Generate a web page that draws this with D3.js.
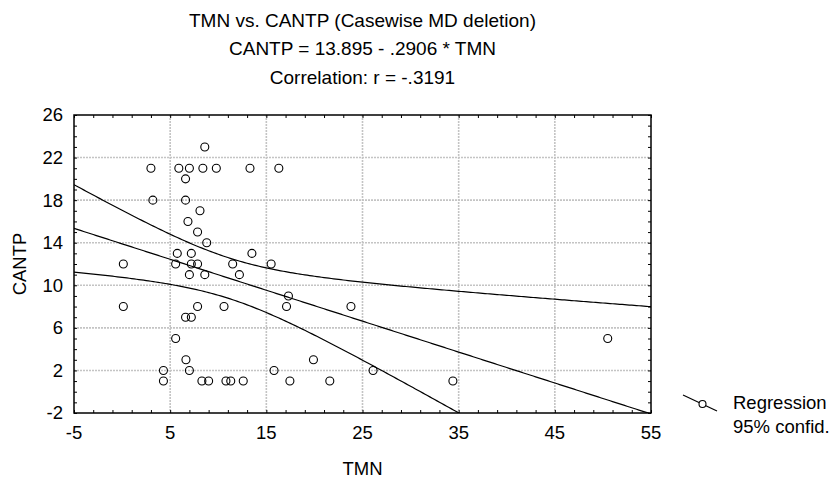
<!DOCTYPE html>
<html>
<head>
<meta charset="utf-8">
<script src="https://cdn.jsdelivr.net/npm/d3@7"></script>
<style>
  body { margin: 0; background: #fff; }
  svg text { font-family: "Liberation Sans", Arial, sans-serif; fill: #000; }
</style>
</head>
<body>
<div id="chart"></div>
<script>
// data
const tmn = [3.0, 5.9, 7.0, 6.6, 8.4, 9.8, 13.3, 16.3, 8.6, 3.2, 6.6, 8.1, 6.85, 7.85, 8.8,
    5.74, 7.2, 13.5, 0.13, 5.57, 7.2, 7.85, 11.5, 15.5, 7.0, 8.6, 12.2, 17.3, 0.13, 7.85,
    10.6, 17.1, 23.8, 6.6, 7.2, 5.57, 6.64, 19.9, 7.0, 4.3, 15.8, 26.1, 4.3, 8.3, 9.0,
    10.8, 11.3, 12.6, 17.45, 21.6, 34.4, 50.5];
const cantp = [21, 21, 21, 20, 21, 21, 21, 21, 23, 18, 18, 17, 16, 15, 14,
    13, 13, 13, 12, 12, 12, 12, 12, 12, 11, 11, 11, 9, 8, 8,
    8, 8, 8, 7, 7, 5, 3, 3, 2, 2, 2, 2, 1, 1, 1,
    1, 1, 1, 1, 1, 1, 5];
// regression coefficients as printed in the title
const intercept = 13.895, slope = -0.2906;
const xTicks = [-5, 5, 15, 25, 35, 45, 55];
const yTicks = [-2, 2, 6, 10, 14, 18, 22, 26];
const titles = ["TMN vs. CANTP (Casewise MD deletion)",
    "CANTP = 13.895 - .2906 * TMN",
    "Correlation: r = -.3191"];
const legendLabels = ["Regression", "95% confid."];

const W = 832, H = 478;
const margin = {top: 115, right: 181, bottom: 65, left: 74};
const width = W - margin.left - margin.right,
    height = H - margin.top - margin.bottom;
const fs = "18.5px";

const svg = d3.select("#chart").append("svg")
    .attr("width", W).attr("height", H);

const x = d3.scaleLinear().domain([-5, 55]).range([0, width]);
const y = d3.scaleLinear().domain([-2, 26]).range([height, 0]);

const g = svg.append("g")
    .attr("transform", "translate(" + margin.left + "," + margin.top + ")");

g.append("clipPath").attr("id", "clip")
  .append("rect").attr("width", width).attr("height", height);

// grid
g.selectAll(".vgrid").data(xTicks.slice(1, -1)).enter().append("line")
    .attr("x1", d => x(d)).attr("x2", d => x(d))
    .attr("y1", 0).attr("y2", height)
    .attr("stroke", "#c4c4c4").attr("stroke-width", 1.6)
    .attr("stroke-dasharray", "2,1");
g.selectAll(".hgrid").data(yTicks.slice(1, -1)).enter().append("line")
    .attr("y1", d => y(d)).attr("y2", d => y(d))
    .attr("x1", 0).attr("x2", width)
    .attr("stroke", "#c4c4c4").attr("stroke-width", 1.6)
    .attr("stroke-dasharray", "2,1");

// regression + 95% confidence band for the mean
const n = tmn.length;
const mx = d3.mean(tmn);
const sxx = d3.sum(tmn, v => (v - mx) ** 2);
const fit = xv => intercept + slope * xv;
const sse = d3.sum(tmn, (v, i) => (cantp[i] - fit(v)) ** 2);
const s = Math.sqrt(sse / (n - 2));
const tcrit = 2.0086; // t(0.975, 50)
const half = xv => tcrit * s * Math.sqrt(1 / n + (xv - mx) ** 2 / sxx);

const xs = d3.range(-5, 55.01, 0.25);
const line = d3.line().x(d => x(d[0])).y(d => y(d[1]));
const curves = [
    xs.map(v => [v, fit(v)]),
    xs.map(v => [v, fit(v) + half(v)]),
    xs.map(v => [v, fit(v) - half(v)])
];
g.append("g").attr("clip-path", "url(#clip)")
  .selectAll("path").data(curves).enter().append("path")
    .attr("d", line)
    .attr("fill", "none").attr("stroke", "#000").attr("stroke-width", 1.2);

// points
g.selectAll(".dot").data(tmn).enter().append("circle")
    .attr("cx", d => x(d))
    .attr("cy", (d, i) => y(cantp[i]))
    .attr("r", 4)
    .attr("fill", "none").attr("stroke", "#000").attr("stroke-width", 1.1);

// frame
g.append("rect").attr("width", width).attr("height", height)
    .attr("fill", "none").attr("stroke", "#000").attr("stroke-width", 1.5);

// inward ticks on all sides
const xMinor = d3.range(-5, 55.01, 2);
const yMinor = d3.range(-2, 26.01, 1);
g.append("g").call(d3.axisBottom(x).tickValues(xMinor).tickSize(-3).tickFormat(""))
    .attr("transform", "translate(0," + height + ")")
    .call(s => s.select(".domain").remove());
g.append("g").call(d3.axisTop(x).tickValues(xMinor).tickSize(-3).tickFormat(""))
    .call(s => s.select(".domain").remove());
g.append("g").call(d3.axisLeft(y).tickValues(yMinor).tickSize(-3).tickFormat(""))
    .call(s => s.select(".domain").remove());
g.append("g").call(d3.axisRight(y).tickValues(yMinor).tickSize(-3).tickFormat(""))
    .attr("transform", "translate(" + width + ",0)")
    .call(s => s.select(".domain").remove());

// tick labels
g.selectAll(".xl").data(xTicks).enter().append("text")
    .attr("x", d => x(d)).attr("y", height + 26)
    .attr("text-anchor", "middle").style("font-size", fs)
    .text(d => d);
g.selectAll(".yl").data(yTicks).enter().append("text")
    .attr("x", -11).attr("y", d => y(d)).attr("dy", "0.35em")
    .attr("text-anchor", "end").style("font-size", fs)
    .text(d => d);

// axis titles
svg.append("text").attr("x", margin.left + width / 2).attr("y", 475)
    .attr("text-anchor", "middle").style("font-size", fs).text("TMN");
svg.append("text")
    .attr("transform", "translate(26," + (margin.top + height / 2) + ") rotate(-90)")
    .attr("text-anchor", "middle").style("font-size", fs).text("CANTP");

// titles
svg.selectAll(".title").data(titles).enter().append("text")
    .attr("x", margin.left + width / 2)
    .attr("y", (d, i) => 26.5 + i * 28.5)
    .attr("text-anchor", "middle").style("font-size", "19px")
    .text(d => d);

// legend
const lg = svg.append("g").attr("transform", "translate(683,395)");
lg.append("line").attr("x1", 0).attr("y1", 0).attr("x2", 34).attr("y2", 16)
    .attr("stroke", "#000").attr("stroke-width", 1.1);
lg.append("circle").attr("cx", 19.5).attr("cy", 9).attr("r", 3.5)
    .attr("fill", "#fff").attr("stroke", "#000").attr("stroke-width", 1.1);
lg.selectAll(".lt").data(legendLabels).enter().append("text")
    .attr("x", 50).attr("y", (d, i) => 14 + i * 24)
    .style("font-size", fs).text(d => d);
</script>
</body>
</html>
